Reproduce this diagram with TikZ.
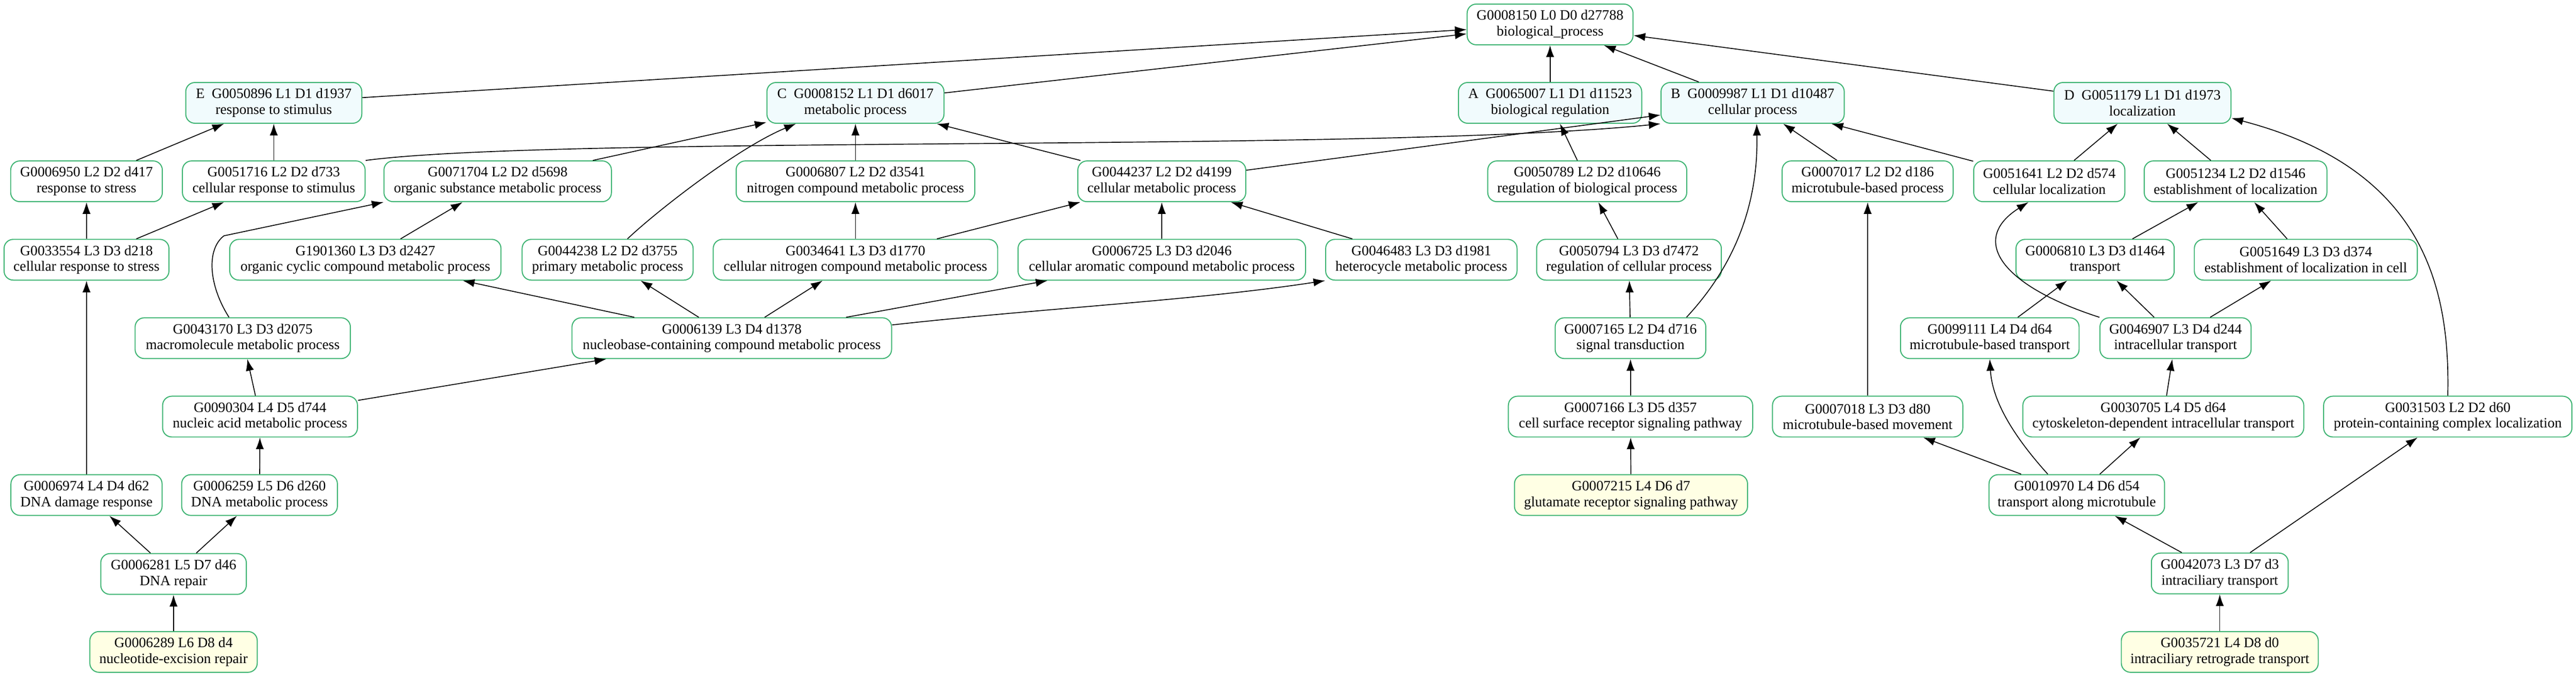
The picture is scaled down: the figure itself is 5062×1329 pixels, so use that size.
\documentclass[tikz,border=0pt]{standalone}
\usepackage{fontspec}
\setmainfont{Liberation Serif}
\usetikzlibrary{arrows.meta}
\definecolor{goborder}{HTML}{3CB371}
\definecolor{golone}{HTML}{F1FBFD}
\definecolor{gosrc}{HTML}{FFFFE4}
\newcommand\gofont{\fontsize{28}{31}\selectfont}
\tikzset{
  gon/.style={draw=goborder, line width=2pt, rounded corners=18pt, minimum height=80pt,
    inner xsep=12pt, inner ysep=0pt, align=center, font=\gofont, fill=white},
  lone/.style={gon, fill=golone},
  src/.style={gon, fill=gosrc},
  isa/.style={-{Latex[length=23pt,width=16pt]}, line width=1.7pt, black}
}
\begin{document}
\begin{tikzpicture}[x=1pt,y=1pt]
\useasboundingbox (0,0) rectangle (5062,-1329);
% row 0
\node[gon, minimum width=326pt] (g8150) at (3046,-48) {G0008150 L0 D0 d27788\\biological\_process};
% row 1
\node[lone, minimum width=346pt] (nE) at (538,-202) {E\ \ G0050896 L1 D1 d1937\\response to stimulus};
\node[lone, minimum width=348pt] (nC) at (1681,-202) {C\ \ G0008152 L1 D1 d6017\\metabolic process};
\node[lone, minimum width=360pt] (nA) at (3046,-202) {A\ \ G0065007 L1 D1 d11523\\biological regulation};
\node[lone, minimum width=360pt] (nB) at (3444,-202) {B\ \ G0009987 L1 D1 d10487\\cellular process};
\node[lone, minimum width=348pt] (nD) at (4210,-202) {D\ \ G0051179 L1 D1 d1973\\localization};
% row 2
\node[gon, minimum width=298pt] (g6950) at (170,-356) {G0006950 L2 D2 d417\\response to stress};
\node[gon, minimum width=359pt] (g51716) at (538,-356) {G0051716 L2 D2 d733\\cellular response to stimulus};
\node[gon, minimum width=447pt] (g71704) at (978,-356) {G0071704 L2 D2 d5698\\organic substance metabolic process};
\node[gon, minimum width=469pt] (g6807) at (1681,-356) {G0006807 L2 D2 d3541\\nitrogen compound metabolic process};
\node[gon, minimum width=330pt] (g44237) at (2283,-356) {G0044237 L2 D2 d4199\\cellular metabolic process};
\node[gon, minimum width=391pt] (g50789) at (3119,-356) {G0050789 L2 D2 d10646\\regulation of biological process};
\node[gon, minimum width=336pt] (g7017) at (3670,-356) {G0007017 L2 D2 d186\\microtubule-based process};
\node[gon, minimum width=297pt] (g51641) at (4027,-356) {G0051641 L2 D2 d574\\cellular localization};
\node[gon, minimum width=359pt] (g51234) at (4393,-356) {G0051234 L2 D2 d1546\\establishment of localization};
% row 3
\node[gon, minimum width=324pt] (g33554) at (170,-510) {G0033554 L3 D3 d218\\cellular response to stress};
\node[gon, minimum width=533pt] (g1901360) at (718,-510) {G1901360 L3 D3 d2427\\organic cyclic compound metabolic process};
\node[gon, minimum width=336pt] (g44238) at (1194,-510) {G0044238 L2 D2 d3755\\primary metabolic process};
\node[gon, minimum width=559pt] (g34641) at (1681,-510) {G0034641 L3 D3 d1770\\cellular nitrogen compound metabolic process};
\node[gon, minimum width=565pt] (g6725) at (2283,-510) {G0006725 L3 D3 d2046\\cellular aromatic compound metabolic process};
\node[gon, minimum width=376pt] (g46483) at (2793,-510) {G0046483 L3 D3 d1981\\heterocycle metabolic process};
\node[gon, minimum width=363pt] (g50794) at (3201,-510) {G0050794 L3 D3 d7472\\regulation of cellular process};
\node[gon, minimum width=311pt] (g6810) at (4117,-510) {G0006810 L3 D3 d1464\\transport};
\node[gon, minimum width=438pt] (g51649) at (4531,-510) {G0051649 L3 D3 d374\\establishment of localization in cell};
% row 4
\node[gon, minimum width=423pt] (g43170) at (477,-664) {G0043170 L3 D3 d2075\\macromolecule metabolic process};
\node[gon, minimum width=628pt] (g6139) at (1438,-664) {G0006139 L3 D4 d1378\\nucleobase-containing compound metabolic process};
\node[gon, minimum width=296pt] (g7165) at (3204,-664) {G0007165 L2 D4 d716\\signal transduction};
\node[gon, minimum width=351pt] (g99111) at (3910,-664) {G0099111 L4 D4 d64\\microtubule-based transport};
\node[gon, minimum width=297pt] (g46907) at (4275,-664) {G0046907 L3 D4 d244\\intracellular transport};
% row 5
\node[gon, minimum width=383pt] (g90304) at (511,-818) {G0090304 L4 D5 d744\\nucleic acid metabolic process};
\node[gon, minimum width=480pt] (g7166) at (3204,-818) {G0007166 L3 D5 d357\\cell surface receptor signaling pathway};
\node[gon, minimum width=374pt] (g7018) at (3670,-818) {G0007018 L3 D3 d80\\microtubule-based movement};
\node[gon, minimum width=552pt] (g30705) at (4251,-818) {G0030705 L4 D5 d64\\cytoskeleton-dependent intracellular transport};
\node[gon, minimum width=488pt] (g31503) at (4810,-818) {G0031503 L2 D2 d60\\protein-containing complex localization};
% row 6
\node[gon, minimum width=297pt] (g6974) at (170,-972) {G0006974 L4 D4 d62\\DNA damage response};
\node[gon, minimum width=306pt] (g6259) at (510,-972) {G0006259 L5 D6 d260\\DNA metabolic process};
\node[src, minimum width=458pt] (g7215) at (3205,-972) {G0007215 L4 D6 d7\\glutamate receptor signaling pathway};
\node[gon, minimum width=345pt] (g10970) at (4081,-972) {G0010970 L4 D6 d54\\transport along microtubule};
% row 7
\node[gon, minimum width=286pt] (g6281) at (341,-1127) {G0006281 L5 D7 d46\\DNA repair};
\node[gon, minimum width=269pt] (g42073) at (4362,-1126) {G0042073 L3 D7 d3\\intraciliary transport};
% row 8
\node[src, minimum width=329pt] (g6289) at (341,-1280) {G0006289 L6 D8 d4\\nucleotide-excision repair};
\node[src, minimum width=387pt] (g35721) at (4362,-1280) {G0035721 L4 D8 d0\\intraciliary retrograde transport};

% edges to root
\draw[isa] (nE) -- (g8150);
\draw[isa] (nC) -- (g8150);
\draw[isa] (nA) -- (g8150);
\draw[isa] (nB) -- (g8150);
\draw[isa] (nD) -- (g8150);
% to level 1
\draw[isa] (g6950) -- (nE);
\draw[isa] (g51716) -- (nE);
\draw[isa] (g51716.north east) .. controls (1100,-265) and (2700,-300) .. (nB.south west);
\draw[isa] (g71704) -- (nC);
\draw[isa] (g6807) -- (nC);
\draw[isa] (g44237) -- (nC);
\draw[isa] (g44237) -- (nB);
\draw[isa] ([xshift=39pt]g44238.north) .. controls (1290,-415) and (1450,-290) .. ([xshift=58pt]nC.south west);
\draw[isa] (g50789) -- (nA);
\draw[isa] (g7017) -- (nB);
\draw[isa] (g51641) -- (nB);
\draw[isa] (g51641) -- (nD);
\draw[isa] (g51234) -- (nD);
\draw[isa] (g31503.north) .. controls (4815,-560) and (4760,-330) .. ([yshift=-30pt]nD.east);
\draw[isa] ([xshift=-39pt]g7165.north east) .. controls (3410,-520) and (3455,-400) .. ([xshift=8pt]nB.south);
% to level 2
\draw[isa] (g33554) -- (g6950);
\draw[isa] (g33554) -- (g51716);
\draw[isa] (g1901360) -- (g71704);
\draw[isa] ([xshift=-27pt]g43170.north) .. controls (410,-560) and (405,-490) .. (440,-463) -- (g71704.south west);
\draw[isa] (g34641) -- (g6807);
\draw[isa] (g34641) -- (g44237);
\draw[isa] (g6725) -- (g44237);
\draw[isa] (g46483) -- (g44237);
\draw[isa] (g50794) -- (g50789);
\draw[isa] (g6810) -- (g51234);
\draw[isa] (g51649) -- (g51234);
\draw[isa] (g46907.north west) .. controls (3930,-560) and (3870,-470) .. ([xshift=-41pt]g51641.south);
\draw[isa] (g7018) -- (g7017);
% to level 3
\draw[isa] (g6139) -- (g1901360);
\draw[isa] (g6139) -- (g44238);
\draw[isa] (g6139) -- (g34641);
\draw[isa] (g6139) -- (g6725);
\draw[isa] ([yshift=26pt]g6139.east) .. controls (2050,-605) and (2350,-590) .. (g46483.south west);
\draw[isa] (g7165) -- (g50794);
\draw[isa] (g99111) -- (g6810);
\draw[isa] (g46907) -- (g6810);
\draw[isa] (g46907) -- (g51649);
\draw[isa] (g6974) -- (g33554);
% to level 4
\draw[isa] (g90304) -- (g43170);
\draw[isa] (g90304) -- (g6139);
\draw[isa] (g7166) -- (g7165);
\draw[isa] (g30705) -- (g46907);
\draw[isa] ([xshift=-57pt]g10970.north) .. controls (3960,-860) and (3915,-790) .. (g99111.south);
% lower levels
\draw[isa] (g6259) -- (g90304);
\draw[isa] (g7215) -- (g7166);
\draw[isa] (g10970) -- (g7018);
\draw[isa] (g10970) -- (g30705);
\draw[isa] (g42073) -- (g10970);
\draw[isa] (g42073) -- (g31503);
\draw[isa] (g35721) -- (g42073);
\draw[isa] (g6281) -- (g6974);
\draw[isa] (g6281) -- (g6259);
\draw[isa] (g6289) -- (g6281);
\end{tikzpicture}
\end{document}
